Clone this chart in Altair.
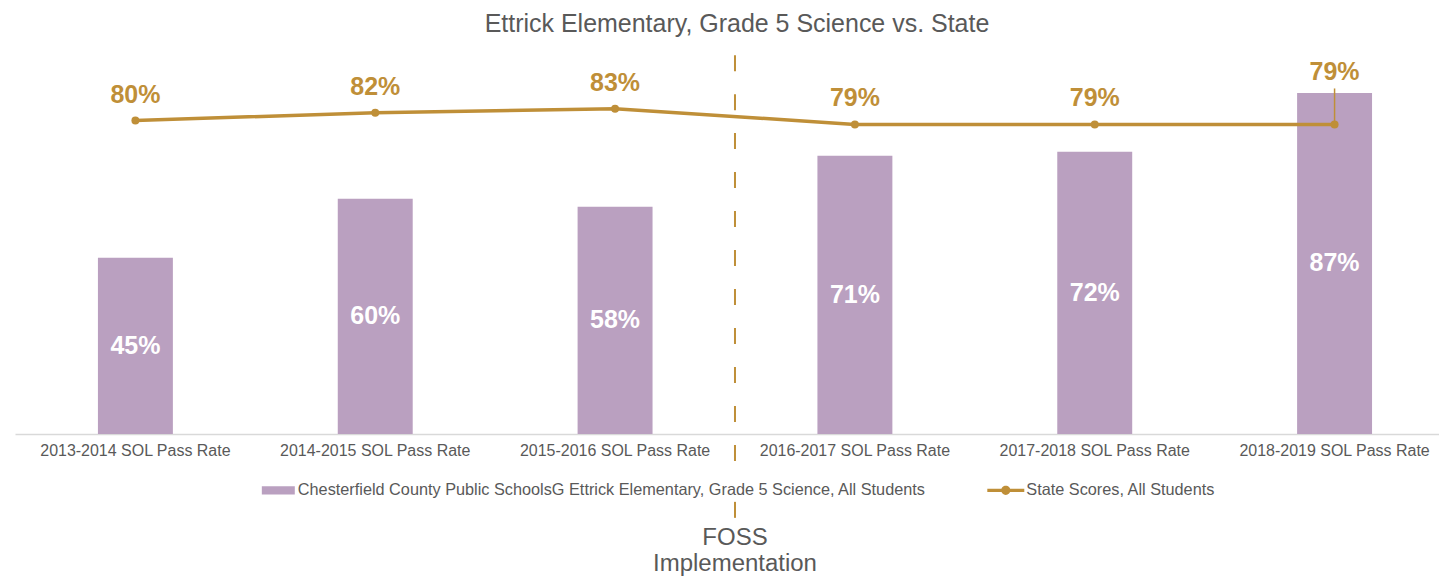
import altair as alt
import pandas as pd

years = [
    "2013-2014 SOL Pass Rate",
    "2014-2015 SOL Pass Rate",
    "2015-2016 SOL Pass Rate",
    "2016-2017 SOL Pass Rate",
    "2017-2018 SOL Pass Rate",
    "2018-2019 SOL Pass Rate",
]
school_scores = [45, 60, 58, 71, 72, 87]
state_scores = [80, 82, 83, 79, 79, 79]

bar_name = "Chesterfield County Public SchoolsG Ettrick Elementary, Grade 5 Science, All Students"
line_name = "State Scores, All Students"
title_text = "Ettrick Elementary, Grade 5 Science vs. State"
annotation_lines = ["FOSS", "Implementation"]
annotation_after = "2016-2017 SOL Pass Rate"

PURPLE = "#BAA0C0"
GOLD = "#BF8F38"
GRAY = "#595959"
FONT = "Liberation Sans"

df = pd.DataFrame({
    "year": years,
    "school": school_scores,
    "state": state_scores,
    "idx": list(range(len(years))),
    "bar_series": [bar_name] * len(years),
    "line_series": [line_name] * len(years),
})

x_enc = alt.X(
    "year:N",
    sort=years,
    scale=alt.Scale(paddingInner=0.6875, paddingOuter=0.3125, align=0.5533),
    axis=alt.Axis(
        title=None, labelAngle=0, labelFontSize=16, labelColor=GRAY, labelFont=FONT,
        ticks=False, tickSize=0, domainColor="#D9D9D9", domainWidth=1.5,
        labelPadding=9, labelLimit=400,
    ),
)
y_scale = alt.Scale(domain=[0, 100])

base = alt.Chart(df)

bars = base.mark_bar().encode(
    x=x_enc,
    y=alt.Y("school:Q", scale=y_scale, axis=None),
    fill=alt.Fill(
        "bar_series:N",
        scale=alt.Scale(domain=[bar_name], range=[PURPLE]),
        legend=alt.Legend(
            title=None, orient="none", legendX=247, legendY=432,
            symbolType="M-1,-0.25H1V0.25H-1Z", symbolSize=1089,
            symbolStrokeWidth=0, labelFontSize=16.3, labelColor=GRAY, labelFont=FONT,
            labelLimit=1000, labelOffset=3, padding=0,
        ),
    ),
)

bar_labels = base.transform_calculate(
    mid="datum.school / 2", label="datum.school + '%'"
).mark_text(
    color="white", fontSize=25, fontWeight="bold", font=FONT, baseline="middle"
).encode(
    x=alt.X("year:N", sort=years),
    y=alt.Y("mid:Q", scale=y_scale, axis=None),
    text="label:N",
)

line = base.mark_line(color=GOLD, strokeWidth=3.5).encode(
    x=alt.X("year:N", sort=years),
    y=alt.Y("state:Q", scale=y_scale, axis=None),
)

points = base.mark_circle(size=64, opacity=1).encode(
    x=alt.X("year:N", sort=years),
    y=alt.Y("state:Q", scale=y_scale, axis=None),
    fill=alt.Fill(
        "line_series:N",
        scale=alt.Scale(domain=[line_name], range=[GOLD]),
        legend=alt.Legend(
            title=None, orient="none", legendX=973, legendY=430,
            symbolType="M-1,-0.09H1V0.09H-1Z M-0.25,0A0.25,0.25,0,1,1,0.25,0A0.25,0.25,0,1,1,-0.25,0Z",
            symbolSize=1369, symbolStrokeWidth=0,
            labelFontSize=16.3, labelColor=GRAY, labelFont=FONT,
            labelLimit=1000, labelOffset=2, padding=0,
        ),
    ),
)

line_labels = base.transform_calculate(label="datum.state + '%'").transform_filter(
    "datum.idx < 5"
).mark_text(
    color=GOLD, fontSize=25, fontWeight="bold", font=FONT, baseline="alphabetic", dy=-18
).encode(
    x=alt.X("year:N", sort=years),
    y=alt.Y("state:Q", scale=y_scale, axis=None),
    text="label:N",
)

last_label = base.transform_calculate(label="datum.state + '%'").transform_filter(
    "datum.idx == 5"
).mark_text(
    color=GOLD, fontSize=25, fontWeight="bold", font=FONT, baseline="alphabetic", dy=-44
).encode(
    x=alt.X("year:N", sort=years),
    y=alt.Y("state:Q", scale=y_scale, axis=None),
    text="label:N",
)

leader = base.transform_filter("datum.idx == 5").mark_rule(
    color=GOLD, strokeWidth=1.5, y2Offset=-36
).encode(
    x=alt.X("year:N", sort=years),
    y=alt.Y("state:Q", scale=y_scale, axis=None),
    y2="state:Q",
)

anno_df = pd.DataFrame({"year": [annotation_after]})
anno_base = alt.Chart(anno_df)

dashed = anno_base.mark_rule(
    color=GOLD, strokeWidth=2, strokeDash=[16, 23], xOffset=-120
).encode(
    x=alt.X("year:N", sort=years),
    y=alt.value(13),
    y2=alt.value(421),
)

solid_tick = anno_base.mark_rule(color=GOLD, strokeWidth=2, xOffset=-120).encode(
    x=alt.X("year:N", sort=years),
    y=alt.value(460),
    y2=alt.value(476),
)

anno_text = anno_base.mark_text(
    color=GRAY, fontSize=24, font=FONT, baseline="middle", align="center",
    lineHeight=26, xOffset=-120,
).encode(
    x=alt.X("year:N", sort=years),
    y=alt.value(496),
    text=alt.value(annotation_lines),
)

chart = alt.layer(
    bars, bar_labels, dashed, solid_tick, anno_text, line, points, line_labels, last_label, leader
).resolve_scale(
    fill="independent"
).properties(
    width=1425,
    height=392,
    autosize=alt.AutoSizeParams(type="none"),
    padding={"left": 7, "top": 34, "right": 0, "bottom": 146},
    title=alt.TitleParams(
        title_text, fontSize=25, color=GRAY, font=FONT, fontWeight="normal",
        anchor="middle", dx=10, dy=22, offset=7, baseline="alphabetic",
    ),
).configure_view(stroke=None)

chart.save("out.html", embed_options={"renderer": "svg", "actions": False})
